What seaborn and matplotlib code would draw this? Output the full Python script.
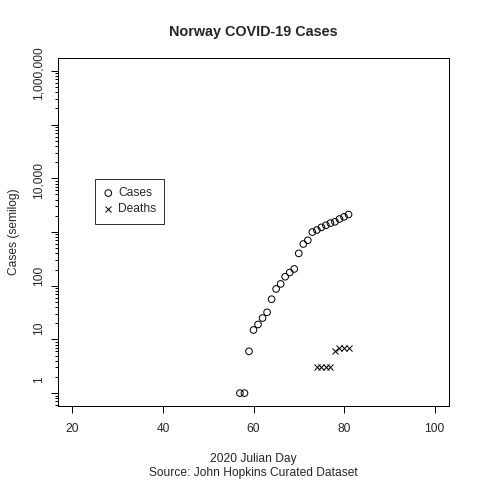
import matplotlib
matplotlib.use("Agg")
import matplotlib.pyplot as plt
import matplotlib.ticker as mticker
import seaborn as sns

# --- DATA ---
case_days = [57, 58, 59, 60, 61, 62, 63, 64, 65, 66, 67, 68, 69, 70, 71, 72, 73, 74, 75, 76, 77, 78, 79, 80, 81]
cases = [1, 1, 6, 15, 19, 25, 32, 56, 87, 108, 147, 176, 205, 400, 598, 702, 996, 1090, 1221, 1333, 1463, 1550,
         1746, 1914, 2118]

death_days = [74, 75, 76, 77, 78, 79, 80, 81]
deaths = [3, 3, 3, 3, 6, 7, 7, 7]

x_ticks = [20, 40, 60, 80, 100]
y_tick_labels = ['1', '10', '100', '10,000', '1,000,000']
y_label_pos = [1.8, 16, 150, 9000, 900000]

# --- STYLE ---
sns.set_style("white")
plt.rcParams['font.family'] = ['Liberation Sans', 'DejaVu Sans']
plt.rcParams['font.size'] = 12

fig = plt.figure(figsize=(480 / 72, 480 / 72), dpi=72)
ax = fig.add_axes([58 / 480, 74 / 480, 391 / 480, 348 / 480])

sns.scatterplot(x=case_days, y=cases, marker='o', s=44, facecolor='none', edgecolor='black', linewidth=1,
                label='Cases', ax=ax)
sns.scatterplot(x=death_days, y=deaths, marker='x', s=36, color='black', linewidth=1, label='Deaths', ax=ax)

ax.set_yscale('log')
ax.set_xlim(16.8, 103.2)
ax.set_ylim(10 ** -0.24, 10 ** 6.24)

ax.set_xticks(x_ticks)
ax.set_xticklabels([str(t) for t in x_ticks])
ax.tick_params(axis='x', length=7, width=1, color='black', pad=10, labelsize=12, direction='out', bottom=True)

# decade ticks + minor ticks, labels go on a separate axis
ax.yaxis.set_major_locator(mticker.LogLocator(base=10, numticks=20))
ax.yaxis.set_minor_locator(mticker.LogLocator(base=10, subs=range(2, 10), numticks=20))
ax.yaxis.set_major_formatter(mticker.NullFormatter())
ax.yaxis.set_minor_formatter(mticker.NullFormatter())
ax.tick_params(axis='y', which='major', length=7, width=1, color='black', direction='out', left=True)
ax.tick_params(axis='y', which='minor', length=3.5, width=1, color='black', direction='out', left=True)

sec = ax.secondary_yaxis('left')
sec.set_yticks(y_label_pos)
sec.set_yticklabels(y_tick_labels, rotation=90, va='center')
sec.yaxis.set_minor_locator(mticker.NullLocator())
sec.tick_params(length=0, pad=13, labelsize=12)
sec.spines['left'].set_visible(False)

for side in ['left', 'right', 'top', 'bottom']:
    ax.spines[side].set_visible(True)
    ax.spines[side].set_color('black')
    ax.spines[side].set_linewidth(1)

sec.set_ylabel('Cases (semilog)', fontsize=12, labelpad=13)
ax.set_xlabel('2020 Julian Day\nSource: John Hopkins Curated Dataset', fontsize=12, labelpad=18, linespacing=1.2)
ax.set_title('Norway COVID-19 Cases', fontsize=14.4, weight='bold', pad=22)

leg = ax.legend(loc='upper left', bbox_to_anchor=(25, 10 ** 3.99), bbox_transform=ax.transData, frameon=True,
                fancybox=False, fontsize=12, handlelength=0.8, handletextpad=0.4, borderpad=0.7,
                labelspacing=0.35, borderaxespad=0)
leg.get_frame().set_edgecolor('black')
leg.get_frame().set_linewidth(1)

plt.savefig("out.png", dpi=72)
plt.close()
